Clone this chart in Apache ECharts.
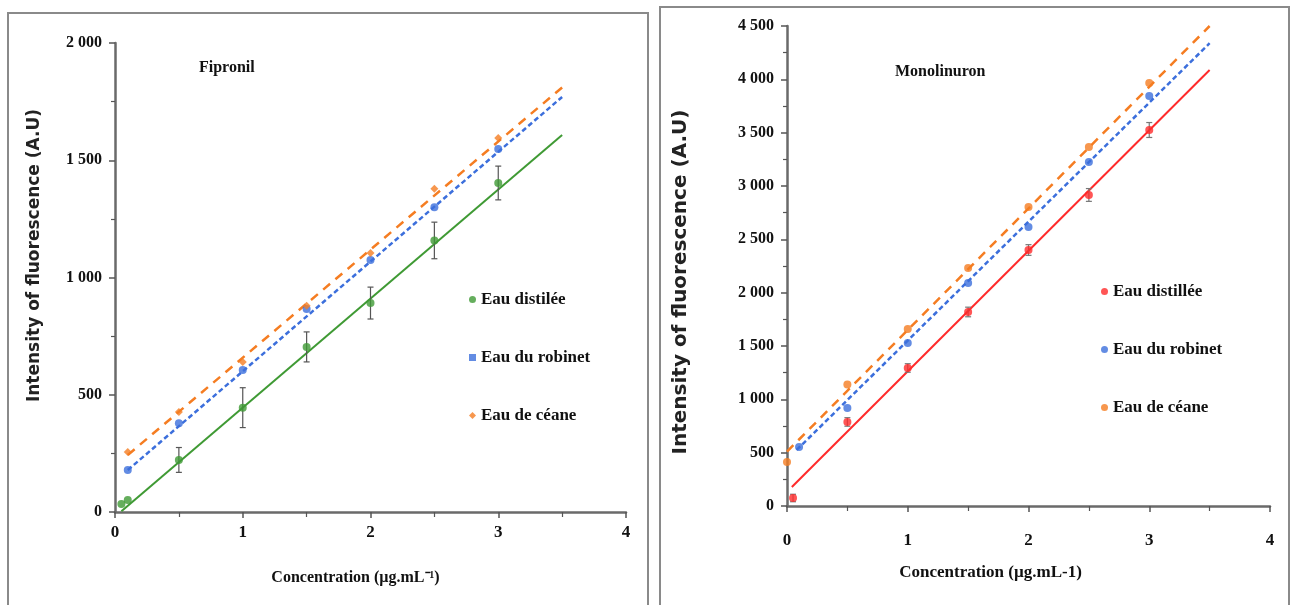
<!DOCTYPE html>
<html>
<head>
<meta charset="utf-8">
<script src="https://cdn.jsdelivr.net/npm/echarts@6/dist/echarts.min.js"></script>
<style>
	html, body { margin: 0; padding: 0; background: #fff; }
	#chart { width: 1291px; height: 605px; }
</style>
</head>
<body>
<div id="chart"></div>
<script>
// Fipronil
var fipX_dist = [0.05, 0.1, 0.5, 1, 1.5, 2, 2.5, 3]
var fipY_dist = [34, 51, 222, 445, 704, 891, 1158, 1403]
var fipErr_dist = [0, 0, 53, 85, 64, 68, 78, 72]
var fipX_rob = [0.1, 0.5, 1, 1.5, 2, 2.5, 3]
var fipY_rob = [179, 378, 606, 866, 1075, 1300, 1548]
var fipX_cea = [0.1, 0.5, 1, 1.5, 2, 2.5, 3]
var fipY_cea = [256, 426, 640, 880, 1105, 1378, 1595]
// droites de régression [pente, ordonnée, xdébut, xfin]
var fipFit_dist = [465, -20, 0.05, 3.5]
var fipFit_rob = [468, 132, 0.1, 3.5]
var fipFit_cea = [461, 197, 0.1, 3.5]

// Monolinuron
var monX_dist = [0.05, 0.5, 1, 1.5, 2, 2.5, 3]
var monY_dist = [75, 788, 1294, 1819, 2400, 2916, 3525]
var monErr_dist = [35, 40, 40, 45, 50, 60, 70]
var monX_rob = [0.1, 0.5, 1, 1.5, 2, 2.5, 3]
var monY_rob = [553, 919, 1528, 2090, 2616, 3225, 3844]
var monX_cea = [0, 0.5, 1, 1.5, 2, 2.5, 3]
var monY_cea = [412, 1140, 1659, 2231, 2803, 3366, 3966]
var monFit_dist = [1130, 133, 0.04, 3.5]
var monFit_rob = [1115, 436, 0.08, 3.5]
var monFit_cea = [1140, 510, 0, 3.5]

var xTicks = [0, 1, 2, 3, 4]

var green = '#3f9a34', blue = '#3c6fdc', orange = '#f57d22', red = '#ff2b2b'
var serif = '"Liberation Serif", "Times New Roman", serif'

function pts(xs, ys) {
	return xs.map(function (x, i) { return [x, ys[i]] })
}
function fitLine(f) {
	return [[f[2], f[0] * f[2] + f[1]], [f[3], f[0] * f[3] + f[1]]]
}
function errData(xs, ys, es) {
	return xs.map(function (x, i) { return [x, ys[i], es[i]] })
}
function fmtNum(v) {
	if (v >= 1000) return Math.floor(v / 1000) + ' ' + String(v % 1000).padStart(3, '0')
	return String(v)
}

function errorSeries(idx, data, color) {
	return {
		type: 'custom',
		xAxisIndex: idx, yAxisIndex: idx,
		silent: true,
		z: 3,
		data: data.filter(function (d) { return d[2] > 0 }),
		renderItem: function (params, api) {
			var x = api.value(0), y = api.value(1), e = api.value(2)
			var lo = api.coord([x, y - e]), hi = api.coord([x, y + e])
			var st = { stroke: color, lineWidth: 1.2 }
			return {
				type: 'group',
				children: [
					{ type: 'line', shape: { x1: lo[0], y1: lo[1], x2: hi[0], y2: hi[1] }, style: st },
					{ type: 'line', shape: { x1: lo[0] - 3, y1: lo[1], x2: lo[0] + 3, y2: lo[1] }, style: st },
					{ type: 'line', shape: { x1: hi[0] - 3, y1: hi[1], x2: hi[0] + 3, y2: hi[1] }, style: st }
				]
			}
		}
	}
}

function scatter(idx, name, data, color, symbol) {
	return {
		type: 'scatter', name: name,
		xAxisIndex: idx, yAxisIndex: idx,
		symbol: symbol, symbolSize: 8,
		itemStyle: { color: color },
		z: 4,
		data: data
	}
}

function fit(idx, data, color, dash, width) {
	return {
		type: 'line',
		xAxisIndex: idx, yAxisIndex: idx,
		showSymbol: false, silent: true,
		lineStyle: { color: color, width: width, type: dash },
		z: 2,
		data: data
	}
}

function xAxisOpt(idx, name, labelMargin, nameSize, namePad) {
	return {
		type: 'value', gridIndex: idx,
		min: xTicks[0], max: xTicks[xTicks.length - 1], interval: 1,
		name: name, nameLocation: 'middle', nameGap: 58,
		nameTextStyle: { fontFamily: serif, fontWeight: 'bold', fontSize: nameSize, color: '#111', padding: namePad },
		axisLine: { lineStyle: { color: '#6a6a6a', width: 2.5 } },
		axisTick: { length: 6, lineStyle: { color: '#555', width: 1.5 } },
		minorTick: { show: true, splitNumber: 2, length: 5, lineStyle: { color: '#555', width: 1.2 } },
		axisLabel: { fontFamily: serif, fontWeight: 'bold', fontSize: 17, color: '#111', margin: labelMargin },
		splitLine: { show: false }
	}
}

function yAxisOpt(idx, max, name, fontSize, nameGap, namePad) {
	return {
		type: 'value', gridIndex: idx,
		min: 0, max: max, interval: 500,
		name: name, nameLocation: 'middle', nameGap: nameGap,
		nameTextStyle: { fontFamily: '"DejaVu Sans", sans-serif', fontWeight: 'bold', fontSize: fontSize, color: '#222', padding: namePad },
		axisLine: { show: true, lineStyle: { color: '#6a6a6a', width: 2.5 } },
		axisTick: { length: 6, lineStyle: { color: '#555', width: 1.5 } },
		minorTick: { show: true, splitNumber: 2, length: 4, lineStyle: { color: '#555', width: 1.2 } },
		axisLabel: { fontFamily: serif, fontWeight: 'bold', fontSize: 16, color: '#111', margin: 13, formatter: fmtNum },
		splitLine: { show: false }
	}
}

var legendText = { fontFamily: serif, fontWeight: 'bold', fontSize: 17, color: '#111' }

var option = {
	backgroundColor: '#fff',
	animation: false,
	title: [
		{ text: 'Fipronil', left: 194, top: 55, textStyle: { fontFamily: serif, fontWeight: 'bold', fontSize: 16, color: '#111' } },
		{ text: 'Monolinuron', left: 890, top: 59, textStyle: { fontFamily: serif, fontWeight: 'bold', fontSize: 16, color: '#111' } }
	],
	grid: [
		{ left: 115, top: 43, width: 511, height: 469 },
		{ left: 787, top: 26, width: 483, height: 480 }
	],
	xAxis: [
		xAxisOpt(0, 'Concentration (µg.mL⁻¹)', 12, 16, [0, 30, 0, 0]),
		xAxisOpt(1, 'Concentration (µg.mL-1)', 26, 17, [0, 76, 0, 0])
	],
	yAxis: [
		yAxisOpt(0, 2000, 'Intensity of fluorescence (A.U)', 17, 72, [0, 0, 0, 44]),
		yAxisOpt(1, 4500, 'Intensity of fluorescence (A.U)', 20, 96, [0, 32, 0, 0])
	],
	legend: [
		{
			orient: 'vertical', left: 464, top: 286, itemGap: 41,
			itemWidth: 7, itemHeight: 7, textStyle: legendText,
			data: [
				{ name: 'Eau distilée', icon: 'circle' },
				{ name: 'Eau du robinet', icon: 'rect' },
				{ name: 'Eau de céane', icon: 'diamond' }
			]
		},
		{
			orient: 'vertical', left: 1096, top: 278, itemGap: 41,
			itemWidth: 7, itemHeight: 7, textStyle: legendText,
			formatter: function (n) { return n.trim() },
			data: [
				{ name: 'Eau distillée', icon: 'circle' },
				{ name: 'Eau du robinet ', icon: 'circle' },
				{ name: 'Eau de céane ', icon: 'circle' }
			]
		}
	],
	graphic: [
		{ type: 'rect', shape: { x: 8, y: 13, width: 640, height: 600 }, style: { fill: 'none', stroke: '#8a8a8a', lineWidth: 2 }, silent: true },
		{ type: 'rect', shape: { x: 660, y: 7, width: 629, height: 610 }, style: { fill: 'none', stroke: '#8a8a8a', lineWidth: 2 }, silent: true }
	],
	series: [
		fit(0, fitLine(fipFit_dist), green, 'solid', 2),
		fit(0, fitLine(fipFit_rob), blue, [5, 3], 2.5),
		fit(0, fitLine(fipFit_cea), orange, [9, 7], 2.5),
		errorSeries(0, errData(fipX_dist, fipY_dist, fipErr_dist), '#555'),
		scatter(0, 'Eau distilée', pts(fipX_dist, fipY_dist), green, 'circle'),
		scatter(0, 'Eau du robinet', pts(fipX_rob, fipY_rob), blue, 'circle'),
		scatter(0, 'Eau de céane', pts(fipX_cea, fipY_cea), orange, 'diamond'),

		fit(1, fitLine(monFit_dist), red, 'solid', 2),
		fit(1, fitLine(monFit_rob), blue, [5, 3], 2.5),
		fit(1, fitLine(monFit_cea), orange, [9, 7], 2.5),
		errorSeries(1, errData(monX_dist, monY_dist, monErr_dist), '#777'),
		scatter(1, 'Eau distillée', pts(monX_dist, monY_dist), red, 'circle'),
		scatter(1, 'Eau du robinet ', pts(monX_rob, monY_rob), blue, 'circle'),
		scatter(1, 'Eau de céane ', pts(monX_cea, monY_cea), orange, 'circle')
	]
}

var chart = echarts.init(document.getElementById('chart'))
chart.setOption(option)
</script>
</body>
</html>
